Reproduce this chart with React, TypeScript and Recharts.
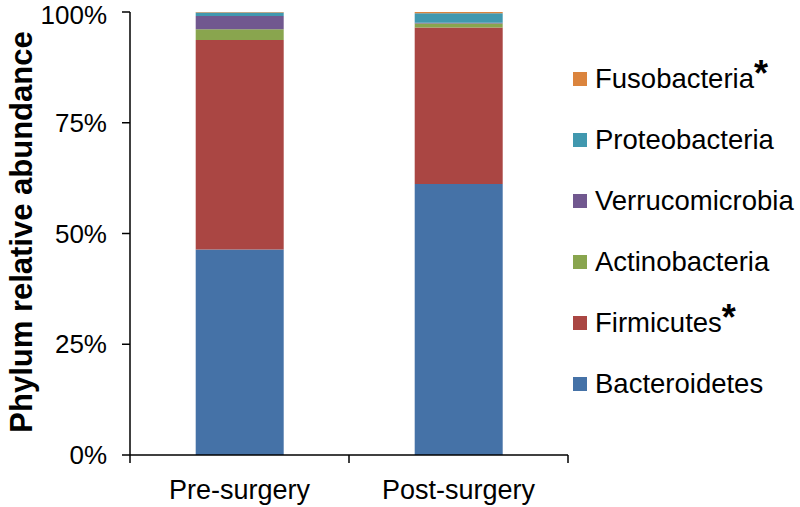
import { BarChart, Bar, XAxis, YAxis, Label } from "recharts"

// groups on the x axis
const groups = ["Pre-surgery", "Post-surgery"]

// phylum shares in %, bottom of stack first
const bacteroidetes = [46.4, 61.2]
const firmicutes = [47.3, 35.3]
const actinobacteria = [2.4, 0.9]
const verrucomicrobia = [3.0, 0.2]
const proteobacteria = [0.8, 2.1]
const fusobacteria = [0.1, 0.3]

const phyla = ["Bacteroidetes", "Firmicutes", "Actinobacteria", "Verrucomicrobia", "Proteobacteria", "Fusobacteria"]
const phylaColors = ["#4572A7", "#AA4643", "#89A54E", "#71588F", "#4198AF", "#DB843D"]
const starred = ["Firmicutes", "Fusobacteria"]

const yTicks = [0, 25, 50, 75, 100]

const series = [bacteroidetes, firmicutes, actinobacteria, verrucomicrobia, proteobacteria, fusobacteria]
const data = groups.map((g, i) => {
  const row: Record<string, string | number> = { group: g }
  phyla.forEach((p, k) => { row[p] = series[k][i] })
  return row
})

const FONT = '"Liberation Sans", Arial, sans-serif'
const W = 800
const H = 507
const M = { top: 12, right: 232, left: 0, bottom: 0 }
const Y_W = 130
const X_H = 52
const BAND = (W - M.right - M.left - Y_W) / groups.length

function GroupTick(props: any) {
  const { x, y, payload, index } = props
  const half = BAND / 2
  return (
    <g>
      <line x1={x - half} x2={x - half} y1={y} y2={y + 8} stroke="#000" strokeWidth={1.5} />
      {index === groups.length - 1 && (
        <line x1={x + half} x2={x + half} y1={y} y2={y + 8} stroke="#000" strokeWidth={1.5} />
      )}
      <text x={x} y={y + 44} textAnchor="middle" fontSize={27} fontFamily={FONT} fill="#000">
        {payload.value}
      </text>
    </g>
  )
}

export default function App() {
  return (
    <div style={{ position: "absolute", left: 0, top: 0, width: W, height: H, background: "#fff" }}>
      <BarChart width={W} height={H} data={data} margin={M} barCategoryGap="30%">
        <XAxis
          dataKey="group"
          height={X_H}
          tickSize={0}
          tickMargin={0}
          tickLine={false}
          tick={<GroupTick />}
          axisLine={{ stroke: "#000", strokeWidth: 1.5 }}
          interval={0}
        />
        <YAxis
          width={Y_W}
          domain={[0, 100]}
          ticks={yTicks}
          tickFormatter={(v) => `${v}%`}
          tickSize={8}
          tickMargin={15}
          tick={{ fontSize: 26, fontFamily: FONT, fill: "#000" }}
          tickLine={{ stroke: "#000", strokeWidth: 1.5 }}
          axisLine={{ stroke: "#000", strokeWidth: 1.5 }}
        >
          <Label
            content={() => (
              <text
                x={21}
                y={232}
                transform="rotate(-90 21 232)"
                textAnchor="middle"
                dominantBaseline="central"
                fontSize={31}
                fontWeight="bold"
                fontFamily={FONT}
                fill="#000"
              >
                Phylum relative abundance
              </text>
            )}
          />
        </YAxis>
        {phyla.map((p, k) => (
          <Bar key={p} dataKey={p} stackId="a" fill={phylaColors[k]} isAnimationActive={false} />
        ))}
      </BarChart>
      <div style={{ position: "absolute", left: 573, top: 48, fontFamily: FONT, fontSize: 27.5, color: "#000" }}>
        {phyla.slice().reverse().map((p) => {
          const k = phyla.indexOf(p)
          return (
            <div key={p} style={{ height: 61, display: "flex", alignItems: "center", whiteSpace: "nowrap" }}>
              <span style={{ width: 14, height: 14, background: phylaColors[k], marginRight: 8, display: "inline-block" }} />
              <span style={{ lineHeight: 1 }}>{p}</span>
              {starred.includes(p) && (
                <span style={{ fontWeight: "bold", fontSize: 36, lineHeight: 1, position: "relative", top: -5 }}>*</span>
              )}
            </div>
          )
        })}
      </div>
    </div>
  )
}
